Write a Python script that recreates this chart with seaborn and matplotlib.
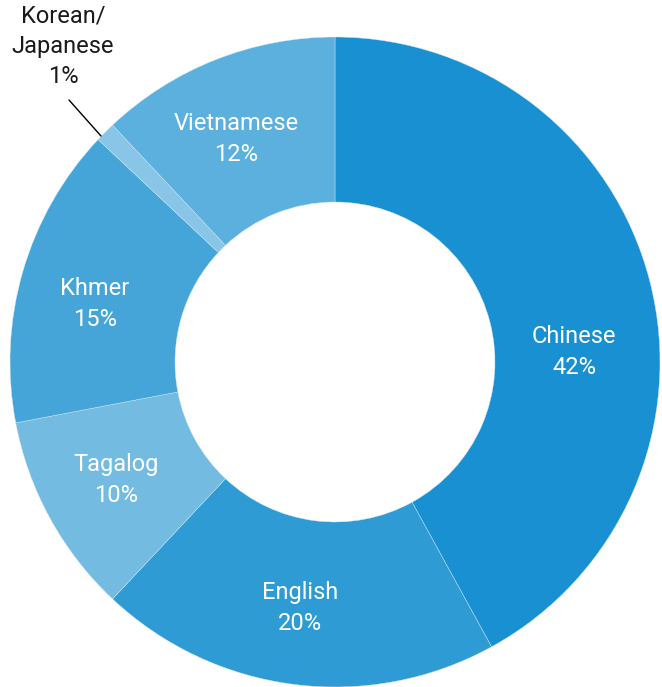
import matplotlib
matplotlib.use("Agg")
import matplotlib.pyplot as plt
import seaborn as sns

sns.set_theme(style="white")
plt.rcParams['font.family'] = ['Roboto', 'DejaVu Sans']

categories = ["Chinese", "English", "Tagalog", "Khmer", "Korean/\nJapanese", "Vietnamese"]
values = [42, 20, 10, 15, 1, 12]
colors = ["#1890d2", "#2e9bd4", "#74bbe2", "#45a5d9", "#88c5e6", "#5cb0de"]

fig = plt.figure(figsize=(6.62, 6.87), dpi=100)
ax = fig.add_axes([0, 0, 1, 1])
ax.pie(values, colors=colors, startangle=90, counterclock=False, radius=325,
       wedgeprops=dict(width=165, linewidth=0.3, edgecolor="#cfe6f4"))
ax.set_xlim(-335, 327)
ax.set_ylim(-325, 362)
ax.set_aspect("equal")
ax.axis("off")

# label positions in pixel offsets from center (335, 362)
label_pos = {
    "Chinese": (574, 352),
    "English": (300, 608),
    "Tagalog": (116, 480),
    "Khmer": (95, 304),
    "Vietnamese": (236, 139),
}
for cat, val in zip(categories, values):
    if cat in label_pos:
        px, py = label_pos[cat]
        ax.text(px - 335, 362 - py, f"{cat}\n{val}%", ha="center", va="center",
                color="white", fontsize=17, linespacing=1.4)
    else:
        ax.text(63 - 335, 362 - 46, f"{cat}\n{val}%", ha="center", va="center",
                color="#1a1a1a", fontsize=17, linespacing=1.4)
        ax.plot([69 - 335, 101 - 335], [362 - 100, 362 - 136], color="black", lw=1)

fig.savefig("out.png", dpi=100)
